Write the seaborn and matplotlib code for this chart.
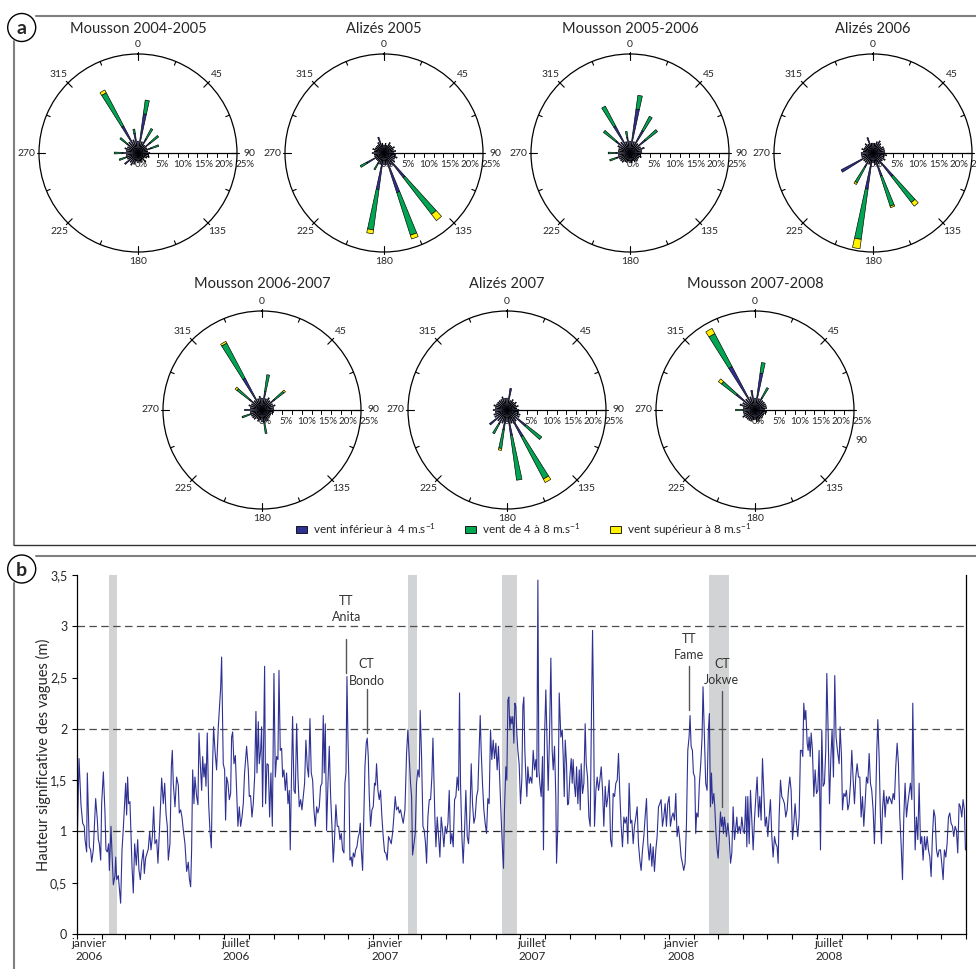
import numpy as np
import pandas as pd
import seaborn as sns
import matplotlib
matplotlib.use("Agg")
import matplotlib.pyplot as plt
import matplotlib.dates as mdates
from matplotlib.patches import Patch, Ellipse
from matplotlib.lines import Line2D
from matplotlib.ticker import FuncFormatter, NullFormatter, MultipleLocator

# ---------------- roses des vents : % par secteur de 10 degres ----------------
directions = np.arange(0, 360, 10)
titres = ["Mousson 2004-2005", "Alizés 2005", "Mousson 2005-2006", "Alizés 2006",
          "Mousson 2006-2007", "Alizés 2007", "Mousson 2007-2008"]

# vent < 4 m/s, 4-8 m/s, > 8 m/s
faible_m0405 = [3.0, 10.0, 3.0, 4.0, 2.5, 4.0, 2.5, 3.5, 2.5, 3.0, 2.5, 3.0,
                2.5, 2.0, 3.0, 2.0, 2.5, 2.0, 2.5, 2.0, 3.0, 3.5, 3.0, 4.3,
                3.0, 3.0, 3.0, 4.0, 3.0, 3.5, 3.0, 3.5, 3.5, 7.7, 3.5, 5.0]
moyen_m0405 = [0, 3.5, 0, 3.0, 0, 2.6, 0, 2.0, 0, 0, 0, 0,
               0, 0, 0, 0, 0, 0, 0, 0, 0, 0, 0, 0,
               0, 2.0, 0, 2.0, 0, 0, 0, 2.3, 0, 9.5, 0, 1.1]
fort_m0405 = [0, 0, 0, 0, 0, 0, 0, 0, 0, 0, 0, 0,
              0, 0, 0, 0, 0, 0, 0, 0, 0, 0, 0, 0,
              0, 0, 0, 0, 0, 0, 0, 0, 0, 0.8, 0, 0]

faible_a05 = [2.0, 2.5, 2.0, 3.0, 2.5, 2.5, 3.0, 2.5, 3.0, 2.5, 3.0, 3.5,
              3.0, 3.5, 7.9, 3.5, 10.5, 3.0, 3.0, 9.3, 3.0, 3.0, 2.5, 2.5,
              5.0, 2.5, 2.5, 3.0, 2.5, 3.0, 2.5, 2.5, 2.5, 3.0, 4.2, 2.5]
moyen_a05 = [0, 0, 0, 0, 0, 0, 0, 0, 0, 0, 0, 0,
             0, 0, 11.7, 0, 11.3, 0, 0, 10.3, 0, 1.8, 0, 0,
             1.8, 0, 0, 0, 0, 0, 0, 0, 0, 0, 0, 0]
fort_a05 = [0, 0, 0, 0, 0, 0, 0, 0, 0, 0, 0, 0,
            0, 0, 2.0, 0, 1.0, 0, 0, 1.0, 0, 0, 0, 0,
            0, 0, 0, 0, 0, 0, 0, 0, 0, 0, 0, 0]

faible_m0506 = [3.0, 11.2, 3.0, 6.4, 3.0, 5.0, 3.0, 3.8, 3.0, 3.0, 2.5, 3.0,
                2.5, 2.5, 2.5, 2.5, 2.0, 2.5, 2.5, 2.0, 2.5, 2.5, 3.0, 3.0,
                3.0, 3.5, 3.0, 3.5, 3.0, 3.0, 3.5, 4.5, 3.5, 7.7, 3.0, 4.0]
moyen_m0506 = [0, 3.5, 0, 4.1, 0, 3.8, 0, 0, 0, 0, 0, 0,
               0, 0, 0, 0, 0, 0, 0, 0, 0, 0, 0, 0,
               0, 1.9, 0, 2.0, 0, 0, 0, 4.0, 0, 5.7, 0, 1.5]
fort_m0506 = [0, 0, 0, 0, 0, 0, 0, 0, 0, 0, 0, 0,
              0, 0, 0, 0, 0, 0, 0, 0, 0, 0, 0, 0,
              0, 0, 0, 0, 0, 0, 0, 0, 0, 0, 0, 0]

faible_a06 = [2.5, 2.5, 3.0, 3.5, 3.0, 2.5, 3.0, 3.0, 3.0, 3.0, 3.5, 3.0,
              3.5, 3.0, 7.5, 3.0, 6.1, 3.0, 2.5, 9.2, 3.0, 4.0, 3.0, 3.0,
              9.1, 3.0, 3.0, 3.0, 2.5, 3.0, 2.5, 2.5, 3.0, 2.5, 4.1, 2.5]
moyen_a06 = [0, 0, 0, 0, 0, 0, 0, 0, 0, 0, 0, 0,
             0, 0, 8.3, 0, 8.0, 0, 0, 12.8, 0, 4.5, 0, 0,
             0, 0, 0, 0, 0, 0, 0, 0, 0, 0, 0, 0]
fort_a06 = [0, 0, 0, 0, 0, 0, 0, 0, 0, 0, 0, 0,
            0, 0, 1.2, 0, 0.4, 0, 0, 2.4, 0, 0.5, 0, 0,
            0, 0, 0, 0, 0, 0, 0, 0, 0, 0, 0, 0]

faible_m0607 = [3.0, 4.7, 3.0, 3.5, 3.0, 4.0, 3.0, 3.5, 3.0, 3.0, 3.0, 2.5,
                2.5, 2.5, 2.5, 3.0, 3.0, 3.0, 3.0, 2.5, 3.0, 2.5, 3.0, 3.0,
                3.0, 3.0, 3.0, 4.4, 3.0, 3.5, 3.0, 4.0, 3.0, 9.1, 3.0, 3.5]
moyen_m0607 = [0, 4.3, 0, 0, 0, 3.0, 0, 0, 0, 0, 0, 0,
               0, 0, 0, 0, 0, 3.0, 0, 0, 0, 0, 0, 0,
               0, 2.3, 0, 0, 0, 0, 0, 4.0, 0, 10.0, 0, 0]
fort_m0607 = [0, 0, 0, 0, 0, 0.5, 0, 0, 0, 0, 0, 0,
              0, 0, 0, 0, 0, 0, 0, 0, 0, 0, 0, 0,
              0, 0, 0, 0, 0, 0, 0, 0.6, 0, 0.5, 0, 0]

faible_a07 = [3.0, 5.5, 2.5, 3.0, 2.5, 3.0, 2.5, 3.0, 2.5, 3.0, 3.0, 3.5,
              3.5, 6.0, 3.5, 7.6, 3.5, 6.4, 3.0, 5.0, 3.5, 4.0, 3.5, 5.6,
              3.5, 3.5, 3.0, 3.5, 3.0, 3.5, 3.0, 3.0, 3.0, 3.0, 3.5, 3.0]
moyen_a07 = [0, 0, 0, 0, 0, 0, 0, 0, 0, 0, 0, 0,
             0, 5.1, 0, 12.1, 0, 11.5, 0, 4.8, 0, 2.8, 0, 0,
             0, 0, 0, 0, 0, 0, 0, 0, 0, 0, 0, 0]
fort_a07 = [0, 0, 0, 0, 0, 0, 0, 0, 0, 0, 0, 0,
            0, 0, 0, 1.0, 0, 0, 0, 0.5, 0, 0, 0, 0,
            0, 0, 0, 0, 0, 0, 0, 0, 0, 0, 0, 0]

faible_m0708 = [3.0, 9.4, 3.0, 3.5, 3.0, 3.0, 3.0, 3.0, 3.0, 2.5, 3.0, 2.5,
                2.5, 2.5, 2.5, 2.5, 3.0, 3.0, 2.5, 2.5, 3.0, 3.0, 3.0, 3.0,
                3.5, 3.0, 3.0, 3.0, 3.0, 4.0, 3.5, 6.0, 3.5, 12.4, 3.5, 5.0]
moyen_m0708 = [0, 2.7, 0, 2.9, 0, 0, 0, 0, 0, 0, 0, 0,
               0, 0, 0, 0, 0, 0, 0, 0, 0, 0, 0, 0,
               0, 0, 0, 1.9, 0, 0, 0, 4.7, 0, 9.4, 0, 0]
fort_m0708 = [0, 0, 0, 0, 0, 0, 0, 0, 0, 0, 0, 0,
              0, 0, 0, 0, 0, 0, 0, 0, 0, 0, 0, 0,
              0, 0, 0, 0, 0, 0, 0, 1.0, 0, 1.5, 0, 0]

faibles = [faible_m0405, faible_a05, faible_m0506, faible_a06, faible_m0607, faible_a07, faible_m0708]
moyens = [moyen_m0405, moyen_a05, moyen_m0506, moyen_a06, moyen_m0607, moyen_a07, moyen_m0708]
forts = [fort_m0405, fort_a05, fort_m0506, fort_a06, fort_m0607, fort_a07, fort_m0708]

# ---------------- hauteur significative (jours depuis le 01/01/2006, m) ----------------
hs_2006_s1 = [
    (0.4, 0.95), (2.5, 1.71), (4.9, 1.26), (7.0, 1.08), (9.0, 1.05), (9.9, 0.92), (11.9, 0.80), (12.7, 1.57),
    (15.2, 0.85), (16.8, 0.82), (18.1, 0.70), (20.1, 0.82), (23.0, 1.32), (25.1, 1.11), (26.3, 0.92), (27.5, 0.88),
    (29.2, 0.72), (30.4, 1.27), (32.5, 1.58), (34.5, 1.18), (35.7, 0.82), (37.4, 0.80), (39.0, 0.88), (39.9, 0.62),
    (41.9, 1.05), (43.1, 0.80), (44.8, 0.48), (46.8, 0.57), (47.7, 0.75), (48.9, 0.53), (50.9, 0.57), (53.8, 0.30),
    (55.5, 0.82), (57.1, 1.03), (60.0, 1.47), (61.2, 1.16), (62.4, 1.53), (63.7, 1.27), (65.3, 1.29), (67.8, 0.66),
    (69.4, 0.40), (71.1, 0.88), (73.1, 0.67), (74.8, 0.92), (76.4, 0.62), (78.1, 0.53), (79.7, 0.70), (81.8, 0.82),
    (83.0, 0.59), (84.6, 0.74), (87.9, 0.83), (89.6, 1.00), (91.2, 0.82), (92.9, 0.95), (94.5, 1.24), (96.1, 0.88),
    (98.2, 0.92), (99.8, 0.69), (101.5, 0.98), (104.4, 1.52), (106.4, 1.27), (108.1, 1.47), (109.7, 1.18), (111.3, 1.05),
    (112.6, 0.72), (114.6, 0.88), (116.3, 1.63), (117.5, 1.79), (118.7, 1.47), (120.8, 1.24), (122.8, 1.53), (124.9, 1.45),
    (126.1, 1.18), (127.8, 1.21), (129.4, 1.14), (131.1, 1.01), (133.1, 0.88), (135.2, 0.61), (137.2, 0.70), (138.5, 0.54),
    (140.1, 0.46), (141.3, 0.82), (142.6, 1.60), (144.2, 1.27), (145.4, 1.53), (147.5, 1.34), (149.1, 1.26), (150.4, 1.96),
    (152.0, 1.66), (153.7, 1.40), (154.9, 1.73), (156.5, 1.53), (157.8, 1.66), (159.0, 1.44), (160.6, 1.96), (162.3, 1.27),
    (163.9, 1.01), (165.6, 0.84), (167.2, 1.66), (168.4, 2.02), (170.1, 1.79), (172.1, 1.60), (174.2, 2.02),
]
hs_2006_s2 = [
    (177.1, 2.40), (178.3, 2.70), (180.3, 1.66), (182.0, 1.60), (183.2, 1.11), (184.5, 1.53), (186.1, 1.47), (187.8, 1.31),
    (189.4, 1.37), (190.6, 1.92), (191.9, 1.97), (193.5, 1.66), (195.2, 1.74), (196.8, 1.40), (198.4, 1.05), (200.1, 1.24),
    (201.7, 1.05), (203.4, 1.14), (205.0, 1.27), (206.6, 1.57), (209.1, 1.83), (211.2, 1.60), (212.4, 1.34), (214.0, 1.35),
    (215.7, 1.14), (217.3, 1.27), (219.0, 1.53), (220.6, 2.17), (221.9, 1.57), (223.5, 2.07), (224.7, 1.66), (226.4, 1.79),
    (227.6, 2.02), (228.8, 1.24), (230.1, 1.89), (231.3, 2.61), (232.5, 1.27), (234.2, 1.66), (235.8, 1.65), (237.5, 1.14),
    (239.1, 1.57), (240.8, 1.05), (242.8, 2.54), (244.5, 1.53), (246.1, 1.73), (247.7, 1.70), (249.0, 2.57), (250.6, 1.79),
    (252.3, 1.81), (253.5, 1.53), (255.1, 1.60), (256.8, 1.40), (258.4, 1.57), (260.1, 1.27), (261.7, 1.40), (262.9, 0.82),
    (264.2, 1.44), (265.8, 2.12), (267.5, 1.40), (269.1, 1.37), (270.8, 2.05), (272.4, 1.53), (274.0, 1.24), (275.7, 1.31),
    (277.3, 1.21), (279.0, 1.34), (280.6, 1.47), (282.2, 1.89), (283.9, 1.63), (285.5, 1.53), (287.2, 2.10), (288.8, 1.57),
    (290.5, 1.50), (292.1, 1.21), (293.8, 1.05), (295.4, 1.24), (297.0, 1.18), (298.7, 1.24), (300.3, 1.44), (302.0, 1.47),
    (303.6, 2.13), (304.8, 1.57), (306.1, 2.05), (307.7, 1.01), (309.4, 1.47), (311.0, 1.83), (312.7, 1.34), (314.3, 1.05),
    (315.9, 0.70), (317.6, 0.95), (319.2, 1.26), (320.9, 1.05), (322.5, 1.05), (324.2, 0.92), (325.8, 0.98), (327.4, 0.82),
    (329.1, 0.79), (330.3, 1.47), (331.6, 1.57), (332.8, 2.51), (334.0, 1.92), (335.3, 1.47), (336.5, 0.72), (338.1, 0.75),
    (339.4, 0.66), (340.6, 0.79), (342.2, 0.75), (343.5, 0.82), (345.1, 0.85), (346.8, 0.95), (348.0, 0.98), (349.2, 1.08),
    (350.5, 0.82), (352.1, 0.62), (353.3, 1.05), (355.0, 1.63), (356.6, 1.86), (357.8, 1.91), (359.1, 1.73), (360.3, 1.35),
    (361.9, 1.05), (363.6, 1.21),
]
hs_2007_s1 = [
    (365.2, 1.24), (366.8, 1.47), (368.1, 1.45), (369.3, 1.66), (371.0, 1.40), (372.6, 1.31), (374.2, 1.40), (375.9, 1.14),
    (377.5, 0.95), (379.2, 0.80), (380.8, 0.79), (382.4, 0.72), (384.1, 0.95), (385.7, 0.92), (387.4, 0.88), (389.0, 0.98),
    (390.6, 1.14), (392.3, 1.34), (393.9, 1.21), (396.0, 1.24), (397.3, 1.18), (398.9, 1.21), (400.6, 1.14), (402.2, 1.08),
    (404.3, 1.21), (406.3, 1.76), (407.9, 1.99), (409.6, 1.73), (411.2, 1.47), (412.5, 1.34), (413.7, 0.77), (415.4, 0.88),
    (417.0, 0.98), (418.6, 1.47), (420.3, 1.60), (421.9, 1.53), (423.1, 2.18), (424.8, 1.73), (426.5, 1.05), (428.1, 1.01),
    (429.7, 0.88), (431.0, 0.69), (432.6, 1.14), (434.3, 1.31), (435.9, 1.31), (437.5, 1.53), (438.8, 1.91), (440.0, 1.53),
    (441.2, 1.14), (442.5, 0.85), (444.1, 1.14), (445.8, 0.95), (447.4, 0.75), (449.0, 1.14), (450.7, 1.01), (452.3, 0.85),
    (454.0, 1.05), (455.6, 0.98), (457.3, 1.08), (458.9, 1.40), (460.5, 0.88), (462.2, 0.98), (463.8, 0.85), (465.5, 1.31),
    (467.1, 1.34), (468.7, 1.53), (470.4, 1.40), (471.6, 2.35), (472.8, 1.47), (474.5, 0.95), (476.1, 0.69), (477.8, 1.01),
    (479.4, 1.40), (481.1, 0.95), (482.7, 0.88), (484.3, 1.14), (486.0, 1.66), (487.6, 1.27), (489.3, 1.08), (490.9, 1.14),
    (492.6, 1.34), (494.2, 1.40), (495.8, 1.79), (497.1, 2.13), (498.3, 1.79), (499.9, 1.47), (501.6, 1.21), (503.2, 1.08),
    (504.9, 0.98), (506.5, 1.32), (508.1, 1.27), (509.8, 1.99), (511.4, 1.70), (513.1, 1.89), (514.7, 1.71), (516.4, 1.86),
    (518.0, 1.60), (519.6, 1.83), (521.3, 1.47), (522.9, 1.14), (524.6, 0.82), (525.8, 0.64), (527.0, 1.21), (528.7, 1.63),
    (529.9, 1.50), (531.2, 2.28), (532.4, 2.31), (533.6, 1.99), (534.9, 2.12), (536.1, 2.05), (537.3, 2.12), (538.6, 1.86),
    (539.8, 2.25), (541.0, 2.22), (542.2, 1.96), (543.5, 1.79),
]
hs_2007_s2 = [
    (545.1, 1.66), (546.8, 1.27), (548.4, 1.50), (549.7, 2.22), (550.9, 2.31), (552.1, 1.79), (553.4, 1.53), (554.6, 1.34),
    (555.8, 1.63), (557.5, 1.47), (559.1, 1.53), (560.8, 1.47), (562.4, 1.79), (564.1, 1.60), (565.7, 1.70), (566.9, 1.53),
    (568.2, 3.45), (569.4, 1.60), (570.6, 1.47), (572.3, 1.34), (573.9, 1.73), (575.1, 0.82), (576.4, 1.92), (578.0, 2.38),
    (579.3, 1.92), (580.9, 1.40), (582.5, 1.92), (584.2, 2.69), (585.8, 1.79), (587.1, 1.60), (588.7, 1.83), (590.3, 1.34),
    (591.2, 0.69), (592.8, 1.05), (594.5, 2.35), (596.5, 1.92), (598.2, 1.99), (599.4, 1.73), (600.7, 1.34), (601.9, 1.89),
    (603.5, 1.66), (604.8, 1.26), (606.0, 1.27), (607.6, 1.53), (609.3, 1.71), (610.5, 1.47), (611.7, 1.70), (613.0, 1.47),
    (614.6, 1.34), (615.9, 1.63), (617.5, 1.27), (619.2, 1.60), (620.4, 1.21), (621.6, 1.66), (623.3, 1.37), (624.9, 1.47),
    (626.5, 2.05), (627.8, 1.66), (629.4, 1.53), (631.1, 1.14), (632.7, 1.05), (634.3, 2.18), (635.6, 2.96), (636.8, 2.22),
    (638.0, 1.05), (639.7, 1.40), (641.3, 1.53), (643.0, 1.40), (644.6, 1.50), (646.3, 1.63), (647.9, 1.40), (649.5, 1.05),
    (651.2, 1.44), (652.8, 1.24), (654.5, 1.34), (656.1, 1.50), (657.8, 0.92), (659.4, 0.85), (661.0, 1.37), (662.7, 1.34),
    (664.3, 1.47), (666.0, 1.50), (667.6, 1.76), (669.2, 1.37), (670.9, 1.05), (672.5, 0.85), (674.2, 1.14), (675.8, 1.08),
    (677.5, 1.14), (679.1, 0.88), (680.7, 1.47), (682.4, 1.08), (684.0, 1.11), (685.7, 0.88), (687.3, 1.05), (689.0, 1.14),
    (690.6, 1.24), (692.2, 0.88), (693.9, 0.72), (695.5, 0.62), (697.2, 0.82), (698.8, 0.95), (700.4, 1.14), (702.1, 1.32),
    (703.7, 0.88), (705.4, 0.72), (707.0, 0.88), (708.7, 0.66), (710.3, 0.85), (711.9, 0.61), (713.6, 0.82), (715.2, 0.95),
    (716.9, 1.24), (718.5, 1.27), (720.1, 1.31), (721.8, 1.05), (723.4, 1.14), (725.1, 1.27), (726.7, 1.05), (728.3, 1.27),
]
hs_2008_s1 = [
    (730.0, 1.34), (731.6, 1.05), (733.3, 1.14), (734.9, 1.18), (736.6, 1.11), (738.2, 1.37), (739.8, 0.95), (741.5, 1.05),
    (743.1, 0.92), (744.8, 0.75), (746.4, 0.69), (748.0, 0.62), (749.7, 0.69), (751.3, 1.05), (753.0, 1.79), (754.6, 1.92),
    (755.8, 2.13), (757.1, 1.83), (758.7, 1.79), (759.9, 1.57), (761.6, 1.53), (762.8, 0.98), (764.0, 1.18), (765.7, 1.14),
    (767.3, 1.47), (769.0, 1.66), (770.6, 1.92), (771.8, 2.41), (773.5, 1.92), (775.1, 1.47), (776.8, 1.40), (778.4, 1.99),
    (779.6, 2.15), (781.0, 1.24), (782.2, 1.57), (783.5, 1.27), (785.1, 1.37), (786.3, 1.24), (787.6, 1.01), (789.2, 0.82),
    (790.4, 0.74), (791.7, 0.92), (793.3, 1.19), (794.6, 1.05), (795.8, 1.14), (797.0, 0.98), (798.2, 1.14), (799.5, 1.05),
    (800.7, 0.95), (802.4, 1.08), (804.0, 0.95), (805.7, 0.69), (807.3, 0.79), (808.9, 1.24), (810.6, 0.92), (811.8, 1.01),
    (813.5, 1.14), (814.7, 0.98), (816.3, 1.05), (818.0, 0.98), (819.6, 1.14), (821.3, 1.01), (822.9, 0.98), (824.5, 1.34),
    (825.8, 0.85), (827.0, 1.34), (828.7, 0.88), (830.3, 1.40), (831.9, 1.11), (833.6, 0.82), (835.2, 1.11), (836.9, 1.34),
    (838.5, 1.53), (840.2, 1.14), (841.8, 1.34), (843.4, 1.11), (845.1, 1.71), (846.7, 1.40), (848.4, 1.05), (850.0, 1.14),
    (851.7, 0.95), (853.3, 1.14), (854.9, 1.31), (856.6, 0.95), (858.2, 0.75), (859.9, 0.95), (861.5, 0.88), (863.1, 0.85),
    (864.4, 0.69), (865.6, 1.14), (867.3, 1.50), (868.9, 1.34), (870.6, 1.31), (872.2, 1.27), (873.8, 1.14), (875.5, 1.21),
    (877.1, 1.40), (878.8, 1.53), (880.4, 1.40), (882.1, 0.92), (883.7, 1.08), (885.3, 1.27), (887.0, 1.08), (888.6, 0.95),
    (890.3, 1.14), (891.9, 1.79), (893.5, 1.79), (894.8, 1.73), (896.0, 2.25), (897.3, 2.09), (898.5, 2.18), (900.2, 1.86),
    (901.4, 1.79), (902.6, 1.92), (903.9, 1.73), (905.1, 1.96), (906.7, 1.79), (908.4, 1.34),
]
hs_2008_s2 = [
    (910.0, 1.60), (911.7, 1.37), (913.3, 1.40), (914.9, 1.79), (916.6, 0.82), (918.2, 1.99), (919.8, 1.44), (921.5, 1.47),
    (923.1, 1.79), (924.4, 2.54), (926.0, 1.99), (927.7, 1.27), (929.3, 1.70), (930.9, 1.99), (932.6, 1.53), (934.2, 2.52),
    (935.8, 1.92), (937.5, 1.79), (939.6, 1.66), (940.8, 2.02), (942.5, 1.73), (943.7, 1.21), (945.4, 1.37), (947.0, 1.34),
    (948.6, 1.40), (950.3, 1.21), (951.9, 1.27), (953.6, 1.47), (955.2, 1.79), (956.9, 1.50), (958.5, 1.27), (960.1, 1.53),
    (961.8, 1.66), (963.4, 1.53), (965.1, 1.53), (966.7, 1.14), (968.4, 1.34), (970.0, 1.05), (971.6, 1.27), (973.3, 1.53),
    (974.9, 1.47), (976.6, 1.76), (978.2, 1.47), (979.8, 1.40), (981.5, 1.21), (983.1, 0.88), (984.8, 1.34), (986.0, 1.79),
    (987.3, 2.09), (988.9, 1.73), (990.5, 1.14), (991.8, 0.88), (993.0, 1.21), (994.7, 1.40), (996.3, 1.14), (997.9, 1.34),
    (999.6, 1.27), (1001.2, 1.34), (1002.9, 1.31), (1004.5, 1.27), (1006.2, 1.37), (1007.8, 1.31), (1009.4, 1.63), (1011.1, 1.86),
    (1012.7, 1.66), (1014.4, 1.14), (1016.0, 0.88), (1017.7, 0.53), (1019.3, 1.14), (1020.9, 1.47), (1022.6, 1.14), (1024.2, 1.27),
    (1025.9, 1.37), (1027.5, 1.47), (1029.2, 1.31), (1030.4, 2.25), (1032.0, 1.40), (1033.3, 0.82), (1034.9, 1.14), (1036.6, 0.92),
    (1038.2, 1.47), (1039.9, 0.88), (1041.5, 0.95), (1043.1, 0.72), (1044.8, 0.95), (1046.4, 0.82), (1048.1, 0.95), (1049.7, 0.82),
    (1051.4, 0.75), (1053.0, 0.56), (1054.6, 0.95), (1056.3, 1.21), (1057.9, 1.14), (1059.6, 0.82), (1061.2, 0.75), (1062.9, 0.82),
    (1064.5, 0.82), (1066.1, 0.69), (1067.8, 0.53), (1069.4, 0.82), (1071.1, 0.75), (1072.7, 0.88), (1074.4, 1.14), (1076.0, 1.18),
    (1077.6, 1.08), (1079.3, 1.05), (1080.9, 0.95), (1082.6, 1.05), (1084.2, 1.01), (1085.8, 0.79), (1087.5, 1.27), (1089.1, 1.24),
    (1090.8, 1.14), (1092.4, 1.31), (1094.0, 1.21), (1095.3, 0.82),
]

# periodes grisees
bandes_debut = ["2006-02-09", "2007-02-13", "2007-06-09", "2008-02-19"]
bandes_fin = ["2006-02-19", "2007-02-24", "2007-06-27", "2008-03-15"]

# evenements cycloniques
evenements = ["TT\nAnita", "CT\nBondo", "TT\nFame", "CT\nJokwe"]
dates_evenements = ["2006-11-29", "2006-12-24", "2008-01-26", "2008-03-06"]
trait_bas = [2.54, 1.96, 2.18, 1.24]
trait_haut = [2.88, 2.39, 2.61, 2.37]
texte_y = [3.17, 2.55, 2.80, 2.555]

# ---------------- style ----------------
sns.set_style("ticks")
plt.rcParams["font.family"] = ["Lato", "DejaVu Sans"]
plt.rcParams["mathtext.default"] = "regular"
plt.rcParams["axes.edgecolor"] = "black"

bleu = "#2E3192"
vert = "#00A651"
jaune = "#FFF200"
W, H = 976, 969
fig = plt.figure(figsize=(W / 100, H / 100), dpi=100)


def fx(x):
    return x / W


def fy(y):
    return 1 - y / H


# ---------------- panneau a ----------------
R = 99
centres = [(138, 153), (384, 153), (630, 153), (873, 153), (262, 410), (507, 410), (755, 410)]
etiquettes_dir = {0: "0", 45: "45", 90: "90", 135: "135", 180: "180", 225: "225", 270: "270", 315: "315"}

for i, (titre, (cx, cy)) in enumerate(zip(titres, centres)):
    rect = [fx(cx - R), fy(cy + R), 2 * R / W, 2 * R / H]

    # axe cartesien sous les barres : graduations et textes
    axc = fig.add_axes(rect)
    axc.set_xlim(-25, 25)
    axc.set_ylim(-25, 25)
    axc.axis("off")
    axc.set_zorder(1)
    axc.plot([0, 25], [0, 0], color="black", lw=0.9)
    for r in np.arange(0, 25.1, 2.5):
        axc.plot([r, r], [0, -0.9], color="black", lw=0.7)
    for r in [0, 5, 10, 15, 20, 25]:
        axc.text(r * 1.04 + 0.9, -3.0, f"{r}%", ha="center", va="center", fontsize=7,
                 clip_on=False)
    for a in np.arange(0, 360, 22.5):
        r0, r1 = (23.5, 25.6) if a % 45 == 0 else (24.0, 25.0)
        t = np.deg2rad(a)
        axc.plot([r0 * np.sin(t), r1 * np.sin(t)], [r0 * np.cos(t), r1 * np.cos(t)],
                 color="black", lw=0.8, clip_on=False)
    for a, lab in etiquettes_dir.items():
        rr = 27.4 if a in (0, 180) else 28.2
        aa = a
        if i == 6 and a == 90:
            aa, rr = 106, 27.9
        t = np.deg2rad(aa)
        axc.text(rr * np.sin(t), rr * np.cos(t), lab, ha="center", va="center", fontsize=7.5, clip_on=False)

    # barres empilees
    axp = fig.add_axes(rect, projection="polar")
    axp.set_zorder(2)
    axp.patch.set_facecolor("none")
    axp.set_theta_zero_location("N")
    axp.set_theta_direction(-1)
    th = np.deg2rad(directions)
    f, m, s = np.array(faibles[i]), np.array(moyens[i]), np.array(forts[i])
    larg = np.deg2rad(4.5)
    for haut, bas, coul in [(f, np.zeros_like(f), bleu), (m, f, vert), (s, f + m, jaune)]:
        k = haut > 0
        axp.bar(th[k], haut[k], width=larg, bottom=bas[k], color=coul,
                edgecolor="black", linewidth=0.45, zorder=3)
    axp.set_ylim(0, 25)
    axp.set_xticks([])
    axp.set_yticks([])
    axp.grid(False)
    axp.spines["polar"].set_linewidth(0.9)
    axp.spines["polar"].set_color("black")

    fig.text(fx(cx), fy(29 if cy < 300 else 284), titre, ha="center", va="center", fontsize=10.5)

fig.legend(handles=[Patch(facecolor=bleu, edgecolor="black", lw=0.6, label="vent inférieur à  4 m.s$^{-1}$"),
                    Patch(facecolor=vert, edgecolor="black", lw=0.6, label="vent de 4 à 8 m.s$^{-1}$"),
                    Patch(facecolor=jaune, edgecolor="black", lw=0.6, label="vent supérieur à 8 m.s$^{-1}$")],
           loc="center", bbox_to_anchor=(fx(524), fy(530)), ncol=3, frameon=False, fontsize=8.5,
           handlelength=0.9, handleheight=0.55, handletextpad=0.5, columnspacing=2.5)

# ---------------- panneau b ----------------
releves = hs_2006_s1 + hs_2006_s2 + hs_2007_s1 + hs_2007_s2 + hs_2008_s1 + hs_2008_s2
df = pd.DataFrame(releves, columns=["jour", "hs"])
df["date"] = pd.Timestamp("2006-01-01") + pd.to_timedelta(df["jour"], unit="D")

ax = fig.add_axes([fx(77), fy(934), 889 / W, 359 / H])
for d0, d1 in zip(bandes_debut, bandes_fin):
    ax.axvspan(pd.Timestamp(d0), pd.Timestamp(d1), color="#D1D3D4", lw=0, zorder=0)
for v, c in [(1, "#2b2b2b"), (2, "#4d4d4d"), (3, "#4d4d4d")]:
    ax.axhline(v, color=c, lw=0.9, ls=(0, (6, 3.5)), zorder=1)
sns.lineplot(data=df, x="date", y="hs", ax=ax, color=bleu, linewidth=0.8, zorder=2)

for nom, d, yb, yh, yt in zip(evenements, dates_evenements, trait_bas, trait_haut, texte_y):
    ax.plot([pd.Timestamp(d)] * 2, [yb, yh], color="#555555", lw=1.0, zorder=3)
    ax.text(pd.Timestamp(d), yt, nom, ha="center", va="center", fontsize=9, color="#333333",
            linespacing=1.45, zorder=3)

ax.set_xlim(pd.Timestamp("2006-01-01"), pd.Timestamp("2009-01-01"))
ax.set_ylim(0, 3.5)
ax.yaxis.set_major_locator(MultipleLocator(0.5))
ax.yaxis.set_major_formatter(FuncFormatter(lambda v, p: f"{v:g}".replace(".", ",")))
mois = {1: "janvier", 7: "juillet"}
ax.xaxis.set_major_locator(mdates.MonthLocator())
ax.xaxis.set_major_formatter(NullFormatter())
ax.xaxis.set_minor_locator(mdates.MonthLocator(bymonth=[1, 7], bymonthday=16))
ax.xaxis.set_minor_formatter(FuncFormatter(
    lambda v, p: f"{mois[mdates.num2date(v).month]}\n{mdates.num2date(v).year}"))
ax.tick_params(axis="both", which="major", direction="out", length=3.5, width=0.8, labelsize=9, color="black")
ax.tick_params(axis="x", which="minor", length=0, labelsize=8.5, pad=3)
ax.set_xlabel("")
ax.set_ylabel("Hauteur significative des vagues (m)", fontsize=10.5)
ax.yaxis.set_label_coords(-0.029, 0.5)
ax.spines["top"].set_visible(False)
for sp in ["left", "bottom", "right"]:
    ax.spines[sp].set_color("black")
    ax.spines[sp].set_linewidth(0.9)

# ---------------- cadres et lettres ----------------
gris = "#808080"
fig.add_artist(Line2D([fx(36), 1], [fy(15.5)] * 2, color=gris, lw=1.5))
fig.add_artist(Line2D([fx(14.3)] * 2, [fy(41), fy(545)], color=gris, lw=1.5))
fig.add_artist(Line2D([fx(14.3), 1], [fy(545)] * 2, color="#333333", lw=1.0))
fig.add_artist(Line2D([fx(36), 1], [fy(555.7)] * 2, color=gris, lw=1.5))
fig.add_artist(Line2D([fx(14.3)] * 2, [fy(583), 0], color=gris, lw=1.5))
for lettre, yc in [("a", 27.5), ("b", 569)]:
    fig.add_artist(Ellipse((fx(21.7), fy(yc)), 28 / W, 28 / H, transform=fig.transFigure,
                           facecolor="white", edgecolor="black", lw=1.0))
    fig.text(fx(21.7), fy(yc + 1), lettre, ha="center", va="center", fontsize=14, fontweight="bold")

fig.savefig("out.png", dpi=100)
